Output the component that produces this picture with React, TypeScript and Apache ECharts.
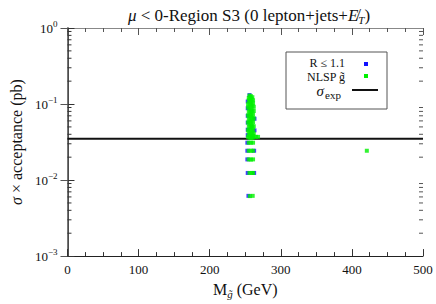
import React, { useEffect, useRef } from "react";
import * as echarts from "echarts";

const xMin = 0;
const xMax = 500;
const yMin = 0.001;
const yMax = 1;
const yMinorTicks = [
  0.002, 0.003, 0.004, 0.005, 0.006, 0.007, 0.008, 0.009,
  0.02, 0.03, 0.04, 0.05, 0.06, 0.07, 0.08, 0.09,
  0.2, 0.3, 0.4, 0.5, 0.6, 0.7, 0.8, 0.9,
];
const sigmaExp = 0.035;
const sigmaExpLine = [
  [0, sigmaExp],
  [500, sigmaExp],
];
const bluePoints = [
  [256, 0.131], [253.5, 0.108], [253.5, 0.088], [253.5, 0.07], [253.5, 0.057],
  [253.5, 0.046], [253.5, 0.039], [263, 0.064], [263, 0.045],
  [253, 0.031], [253, 0.0243], [262.5, 0.0243], [253, 0.0187],
  [253.5, 0.0124], [262.5, 0.0124], [254.5, 0.0062],
];
const greenPoints = [
  [256, 0.129], [258, 0.127], [260, 0.123], [255, 0.12], [257, 0.118],
  [259, 0.116], [261, 0.112], [255, 0.112], [257, 0.108], [259, 0.106],
  [261, 0.102], [254, 0.1], [256, 0.098], [258, 0.096], [260, 0.094],
  [262, 0.092], [254, 0.09], [256, 0.087], [258, 0.085], [260, 0.083],
  [262, 0.081], [255, 0.079], [257, 0.077], [259, 0.075], [261, 0.073],
  [254, 0.071], [256, 0.069], [258, 0.068], [260, 0.066], [262, 0.065],
  [255, 0.063], [257, 0.061], [259, 0.06], [261, 0.058], [254, 0.057],
  [256, 0.055], [258, 0.054], [260, 0.052], [262, 0.051], [255, 0.05],
  [257, 0.049], [259, 0.048], [261, 0.046], [254, 0.045], [256, 0.044],
  [258, 0.043], [260, 0.042], [262, 0.041], [255, 0.04], [257, 0.039],
  [259, 0.038], [261, 0.038], [254, 0.037], [256, 0.036], [258, 0.036],
  [260, 0.036], [262, 0.037], [265, 0.037], [268, 0.037],
  [255, 0.031], [258, 0.031], [261, 0.031],
  [255, 0.0243], [258, 0.0243], [261, 0.0243],
  [255, 0.0187], [258, 0.0186], [261, 0.0187],
  [256, 0.0124], [259, 0.0124], [261, 0.0124],
  [256.5, 0.00615], [260.5, 0.0062],
  [421, 0.0243],
];

const FONT = "Liberation Serif, serif";

export default function App() {
  const ref = useRef<HTMLDivElement>(null);
  useEffect(() => {
    if (!ref.current) return;
    const chart = echarts.init(ref.current, undefined, { renderer: "svg" });
    const supLabel = (v: number) => {
      const e = Math.round(Math.log10(v));
      const s = e < 0 ? "−" + -e : String(e);
      return `{b|10}{s|${s}}`;
    };
    const yRich = {
      b: { fontFamily: FONT, fontSize: 13, color: "#111" },
      s: { fontFamily: FONT, fontSize: 9, color: "#111", verticalAlign: "bottom", padding: [0, 0, 9, 0] },
    };
    chart.setOption({
      animation: false,
      backgroundColor: "#fff",
      title: {
        text: "{i|μ}{n| < 0-Region S3 (0 lepton+jets+}{i|E̸}{sub|T}{n|)}",
        left: 244,
        textAlign: "center",
        top: 0,
        textStyle: {
          fontWeight: "normal",
          rich: {
            n: { fontFamily: FONT, fontSize: 17, fontWeight: "normal", color: "#111" },
            i: { fontFamily: FONT, fontSize: 17, fontWeight: "normal", fontStyle: "italic", color: "#111" },
            sub: { fontFamily: FONT, fontSize: 11, fontWeight: "normal", fontStyle: "italic", color: "#111", verticalAlign: "top", padding: [9, 0, 0, 0] },
          },
        },
      },
      grid: { left: 61, right: 13, top: 28, bottom: 40, containLabel: false },
      xAxis: [
        {
          type: "value",
          min: xMin,
          max: xMax,
          interval: 100,
          position: "bottom",
          axisLine: { show: true, lineStyle: { color: "#222", width: 1 } },
          axisTick: { show: true, inside: true, length: 7, lineStyle: { color: "#333" } },
          minorTick: { show: true, splitNumber: 4, length: 4, lineStyle: { color: "#333" } },
          splitLine: { show: false },
          axisLabel: { fontFamily: FONT, fontSize: 13, color: "#111", margin: 7 },
          name: "{n|M}{sub|g̃}{n| (GeV)}",
          nameLocation: "middle",
          nameGap: 19,
          nameTextStyle: {
            rich: {
              n: { fontFamily: FONT, fontSize: 16, color: "#111" },
              sub: { fontFamily: FONT, fontSize: 11, fontStyle: "italic", color: "#111", verticalAlign: "top", padding: [9, 0, 0, 0] },
            },
          },
        },
        {
          type: "value",
          min: xMin,
          max: xMax,
          interval: 100,
          position: "top",
          axisLine: { show: true, lineStyle: { color: "#888", width: 1 } },
          axisTick: { show: true, inside: true, length: 7, lineStyle: { color: "#555" } },
          minorTick: { show: true, splitNumber: 4, length: 4, lineStyle: { color: "#555" } },
          splitLine: { show: false },
          axisLabel: { show: false },
        },
      ],
      yAxis: [
        {
          type: "log",
          logBase: 10,
          min: yMin,
          max: yMax,
          interval: 1,
          position: "left",
          axisLine: { show: true, lineStyle: { color: "#111", width: 1.5 } },
          axisTick: { show: true, inside: true, length: 7, lineStyle: { color: "#333" } },
          splitLine: { show: false },
          axisLabel: { formatter: supLabel, rich: yRich, margin: 10 },
          name: "{i|σ}{n| × acceptance (pb)}",
          nameLocation: "middle",
          nameGap: 42,
          nameRotate: 90,
          nameTextStyle: {
            rich: {
              n: { fontFamily: FONT, fontSize: 16, color: "#111" },
              i: { fontFamily: FONT, fontSize: 16, fontStyle: "italic", color: "#111" },
            },
          },
        },
        {
          type: "log",
          logBase: 10,
          min: yMin,
          max: yMax,
          interval: 1,
          position: "right",
          axisLine: { show: true, lineStyle: { color: "#777", width: 1 } },
          axisTick: { show: true, inside: true, length: 7, lineStyle: { color: "#555" } },
          splitLine: { show: false },
          axisLabel: { show: false },
        },
      ],
      graphic: [
        {
          type: "rect",
          shape: { x: 286, y: 52, width: 101, height: 57 },
          style: { fill: "#fff", stroke: "#555", lineWidth: 1 },
          z: 100,
        },
        {
          type: "text",
          x: 345,
          y: 63,
          z: 101,
          style: { text: "R ≤ 1.1", font: `12px ${FONT}`, lineHeight: 10, fill: "#111", align: "right", verticalAlign: "middle" },
        },
        {
          type: "text",
          x: 345,
          y: 77,
          z: 101,
          style: { text: "NLSP g̃", font: `12px ${FONT}`, lineHeight: 10, fill: "#111", align: "right", verticalAlign: "middle" },
        },
        {
          type: "text",
          x: 324,
          y: 91,
          z: 101,
          style: { text: "σ", font: `italic 15px ${FONT}`, lineHeight: 12, fill: "#111", align: "right", verticalAlign: "middle" },
        },
        {
          type: "text",
          x: 325,
          y: 95,
          z: 101,
          style: { text: "exp", font: `11px ${FONT}`, lineHeight: 9, fill: "#111", align: "left", verticalAlign: "middle" },
        },
        { type: "rect", z: 101, shape: { x: 364, y: 62, width: 4, height: 4 }, style: { fill: "#1010ff" } },
        { type: "rect", z: 101, shape: { x: 364, y: 74, width: 4, height: 4 }, style: { fill: "#00f000" } },
        { type: "line", z: 101, shape: { x1: 352, y1: 90, x2: 378, y2: 90 }, style: { stroke: "#111", lineWidth: 2 } },
      ],
      series: [
        {
          type: "line",
          name: "σexp",
          data: sigmaExpLine,
          showSymbol: false,
          lineStyle: { color: "#111", width: 2 },
          z: 1,
        },
        {
          type: "scatter",
          name: "R ≤ 1.1",
          data: bluePoints,
          symbol: "rect",
          symbolSize: 4,
          itemStyle: { color: "#1010ff" },
          z: 2,
        },
        {
          type: "scatter",
          name: "NLSP g̃",
          data: greenPoints,
          symbol: "rect",
          symbolSize: 4,
          itemStyle: { color: "#00f000" },
          z: 3,
        },
        {
          type: "custom",
          name: "minorTicks",
          data: yMinorTicks.map((v) => [0, v]),
          clip: false,
          silent: true,
          z: 4,
          renderItem: (params: any, api: any) => {
            const v = api.value(1);
            const l = api.coord([xMin, v]);
            const r = api.coord([xMax, v]);
            return {
              type: "group",
              children: [
                { type: "line", shape: { x1: l[0], y1: l[1], x2: l[0] + 4, y2: l[1] }, style: { stroke: "#333", lineWidth: 1 } },
                { type: "line", shape: { x1: r[0] - 4, y1: r[1], x2: r[0], y2: r[1] }, style: { stroke: "#555", lineWidth: 1 } },
              ],
            };
          },
        },
      ],
    });
    return () => chart.dispose();
  }, []);
  return <div ref={ref} style={{ position: "absolute", left: 0, top: 0, width: 436, height: 304 }} />;
}
